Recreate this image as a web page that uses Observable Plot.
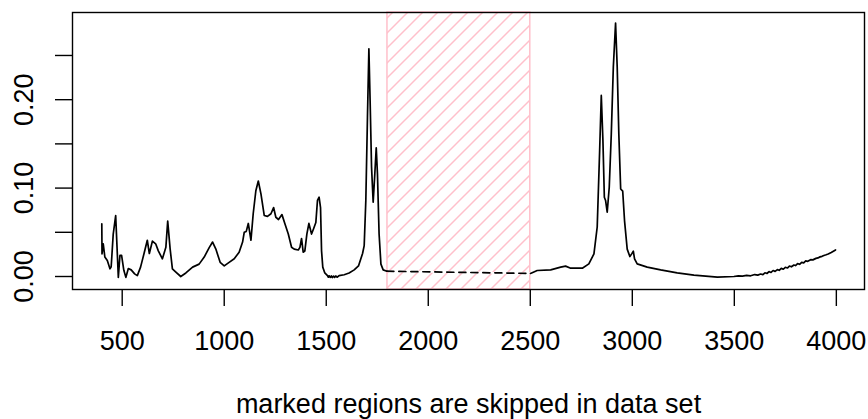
<!DOCTYPE html>
<html>
<head>
<meta charset="utf-8">
<script src="https://cdn.jsdelivr.net/npm/d3@7"></script>
<script src="https://cdn.jsdelivr.net/npm/@observablehq/plot@0.6"></script>
<style>
  html, body { margin: 0; padding: 0; background: #fff; }
  #chart svg { display: block; }
</style>
</head>
<body>
<div id="chart"></div>
<script>
// wavenumbers (cm-1) and absorbance, low-wavenumber segment (before the skipped region)
const wnLow = [400, 401, 407, 415, 427, 440, 446, 456, 468, 476, 481, 489, 497, 508, 518, 530, 544, 561, 574, 590, 607, 623, 633, 648, 664, 677, 697, 714, 723, 735, 746, 763, 787, 812, 845, 877, 902, 927, 943, 959, 980, 1000, 1024, 1049, 1073, 1090, 1098, 1108, 1118, 1131, 1142, 1155, 1167, 1180, 1196, 1212, 1229, 1242, 1253, 1266, 1283, 1297, 1314, 1330, 1343, 1363, 1371, 1379, 1387, 1395, 1405, 1415, 1428, 1438, 1449, 1457, 1465, 1472, 1477, 1483, 1493, 1506, 1510, 1514, 1520, 1525, 1530, 1536, 1541, 1547, 1553, 1563, 1588, 1612, 1637, 1658, 1678, 1686, 1694, 1702, 1709, 1715, 1722, 1730, 1738, 1745, 1751, 1759, 1768, 1779, 1797];
const absLow = [0.0596, 0.0256, 0.037, 0.022, 0.018, 0.0087, 0.011, 0.048, 0.069, 0.026, -0.001, 0.024, 0.024, 0.007, -0.001, 0.009, 0.0075, 0.003, 0.001, 0.0106, 0.026, 0.041, 0.026, 0.040, 0.037, 0.029, 0.020, 0.033, 0.0626, 0.031, 0.0087, 0.005, 0.0, 0.004, 0.0106, 0.014, 0.022, 0.033, 0.039, 0.031, 0.016, 0.012, 0.016, 0.020, 0.0275, 0.039, 0.050, 0.051, 0.060, 0.041, 0.071, 0.097, 0.108, 0.0935, 0.069, 0.068, 0.071, 0.078, 0.067, 0.0645, 0.070, 0.060, 0.048, 0.033, 0.031, 0.030, 0.033, 0.043, 0.0275, 0.0287, 0.048, 0.060, 0.048, 0.054, 0.061, 0.086, 0.0897, 0.078, 0.029, 0.0106, 0.004, 0.001, -0.0008, 0.0008, -0.001, 0.0006, -0.0012, 0.0005, -0.001, 0.0006, -0.0008, 0.001, 0.002, 0.004, 0.0075, 0.012, 0.026, 0.035, 0.086, 0.18, 0.2575, 0.199, 0.124, 0.084, 0.116, 0.1455, 0.116, 0.048, 0.014, 0.0075, 0.006];

// high-wavenumber segment (after the skipped region)
const wnHigh = [2501, 2534, 2600, 2649, 2673, 2698, 2755, 2787, 2812, 2828, 2840, 2848, 2856, 2863, 2869, 2877, 2887, 2897, 2907, 2918, 2926, 2934, 2943, 2953, 2962, 2975, 2988, 2997, 3005, 3011, 3024, 3073, 3139, 3220, 3302, 3417, 3498, 3520, 3540, 3560, 3580, 3600, 3615, 3629, 3640, 3650, 3660, 3670, 3680, 3690, 3700, 3711, 3720, 3730, 3740, 3750, 3760, 3770, 3780, 3792, 3800, 3810, 3820, 3830, 3840, 3850, 3860, 3874, 3885, 3900, 3910, 3920, 3930, 3939, 3950, 3960, 3975, 3996];
const absHigh = [0.0035, 0.0068, 0.0075, 0.0106, 0.0117, 0.0094, 0.0094, 0.0143, 0.0256, 0.056, 0.1425, 0.2048, 0.154, 0.0897, 0.086, 0.0727, 0.101, 0.161, 0.237, 0.2866, 0.237, 0.161, 0.099, 0.0965, 0.063, 0.031, 0.0226, 0.0256, 0.0286, 0.020, 0.0143, 0.0106, 0.0075, 0.0042, 0.0015, -0.0008, 0.0, 0.0008, 0.0004, 0.0012, 0.0008, 0.0022, 0.0016, 0.0028, 0.0022, 0.0042, 0.0034, 0.0055, 0.0046, 0.0068, 0.0058, 0.0078, 0.0070, 0.0092, 0.0082, 0.0104, 0.0096, 0.0118, 0.0110, 0.0130, 0.0124, 0.0145, 0.0138, 0.0160, 0.0154, 0.0176, 0.0172, 0.0190, 0.0188, 0.0205, 0.0210, 0.0222, 0.0228, 0.0238, 0.0246, 0.0255, 0.0272, 0.030];

// skipped wavenumber regions
const skipFrom = [1800];
const skipTo = [2500];

// axis ticks
const xTicks = [500, 1000, 1500, 2000, 2500, 3000, 3500, 4000];
const yTicks = [0, 0.05, 0.10, 0.15, 0.20, 0.25];
const yLabels = [0, 0.10, 0.20];
const xLabelText = "marked regions are skipped in data set";

const low = wnLow.map((w, i) => ({wn: w, a: absLow[i]}));
const high = wnHigh.map((w, i) => ({wn: w, a: absHigh[i]}));
const gap = [low[low.length - 1], high[0]];
const regions = skipFrom.map((f, i) => ({from: f, to: skipTo[i]}));

const font = "'Liberation Sans', Arial, Helvetica, sans-serif";
const fs = 27;

const svg = Plot.plot({
  width: 868,
  height: 419,
  marginLeft: 72,
  marginRight: 4,
  marginTop: 12,
  marginBottom: 130,
  style: {fontFamily: font, fontSize: fs + "px", color: "black", background: "white", overflow: "visible"},
  x: {domain: [256.4, 4138]},
  y: {domain: [-0.0147, 0.2986]},
  marks: [
    Plot.rect(regions, {x1: "from", x2: "to", fill: "url(#hatch)", stroke: "#FFC0CB", strokeWidth: 1.5}),
    Plot.line(gap, {x: "wn", y: "a", stroke: "white", strokeWidth: 1.7}),
    Plot.line(gap, {x: "wn", y: "a", stroke: "black", strokeWidth: 1.7, strokeDasharray: "7,5"}),
    Plot.line(low, {x: "wn", y: "a", stroke: "black", strokeWidth: 1.7}),
    Plot.line(high, {x: "wn", y: "a", stroke: "black", strokeWidth: 1.7}),
    Plot.frame({stroke: "black", strokeWidth: 1.4}),
    Plot.axisX({ticks: xTicks, tickSize: 17, tickPadding: 24, tickFormat: d => String(d), label: null, fontSize: fs, strokeWidth: 1.4}),
    Plot.axisY({ticks: yTicks, tickSize: 17, tickFormat: () => "", label: null, strokeWidth: 1.4}),
    Plot.text(yLabels, {y: d => d, text: d => d.toFixed(2), frameAnchor: "left", dx: -40, rotate: -90, textAnchor: "middle", lineAnchor: "bottom", fontSize: fs}),
    Plot.text([xLabelText], {text: d => d, frameAnchor: "bottom", dy: 123, lineAnchor: "bottom", textAnchor: "middle", fontSize: fs})
  ]
});

// hatch pattern for the skipped regions
const ns = "http://www.w3.org/2000/svg";
const defs = document.createElementNS(ns, "defs");
const pat = document.createElementNS(ns, "pattern");
pat.setAttribute("id", "hatch");
pat.setAttribute("patternUnits", "userSpaceOnUse");
pat.setAttribute("width", "15");
pat.setAttribute("height", "15");
const p = document.createElementNS(ns, "path");
p.setAttribute("d", "M-2,2 L2,-2 M0,15 L15,0 M13,17 L17,13");
p.setAttribute("stroke", "#FFC0CB");
p.setAttribute("stroke-width", "1.5");
pat.appendChild(p);
defs.appendChild(pat);
svg.insertBefore(defs, svg.firstChild);

document.getElementById("chart").appendChild(svg);
</script>
</body>
</html>
